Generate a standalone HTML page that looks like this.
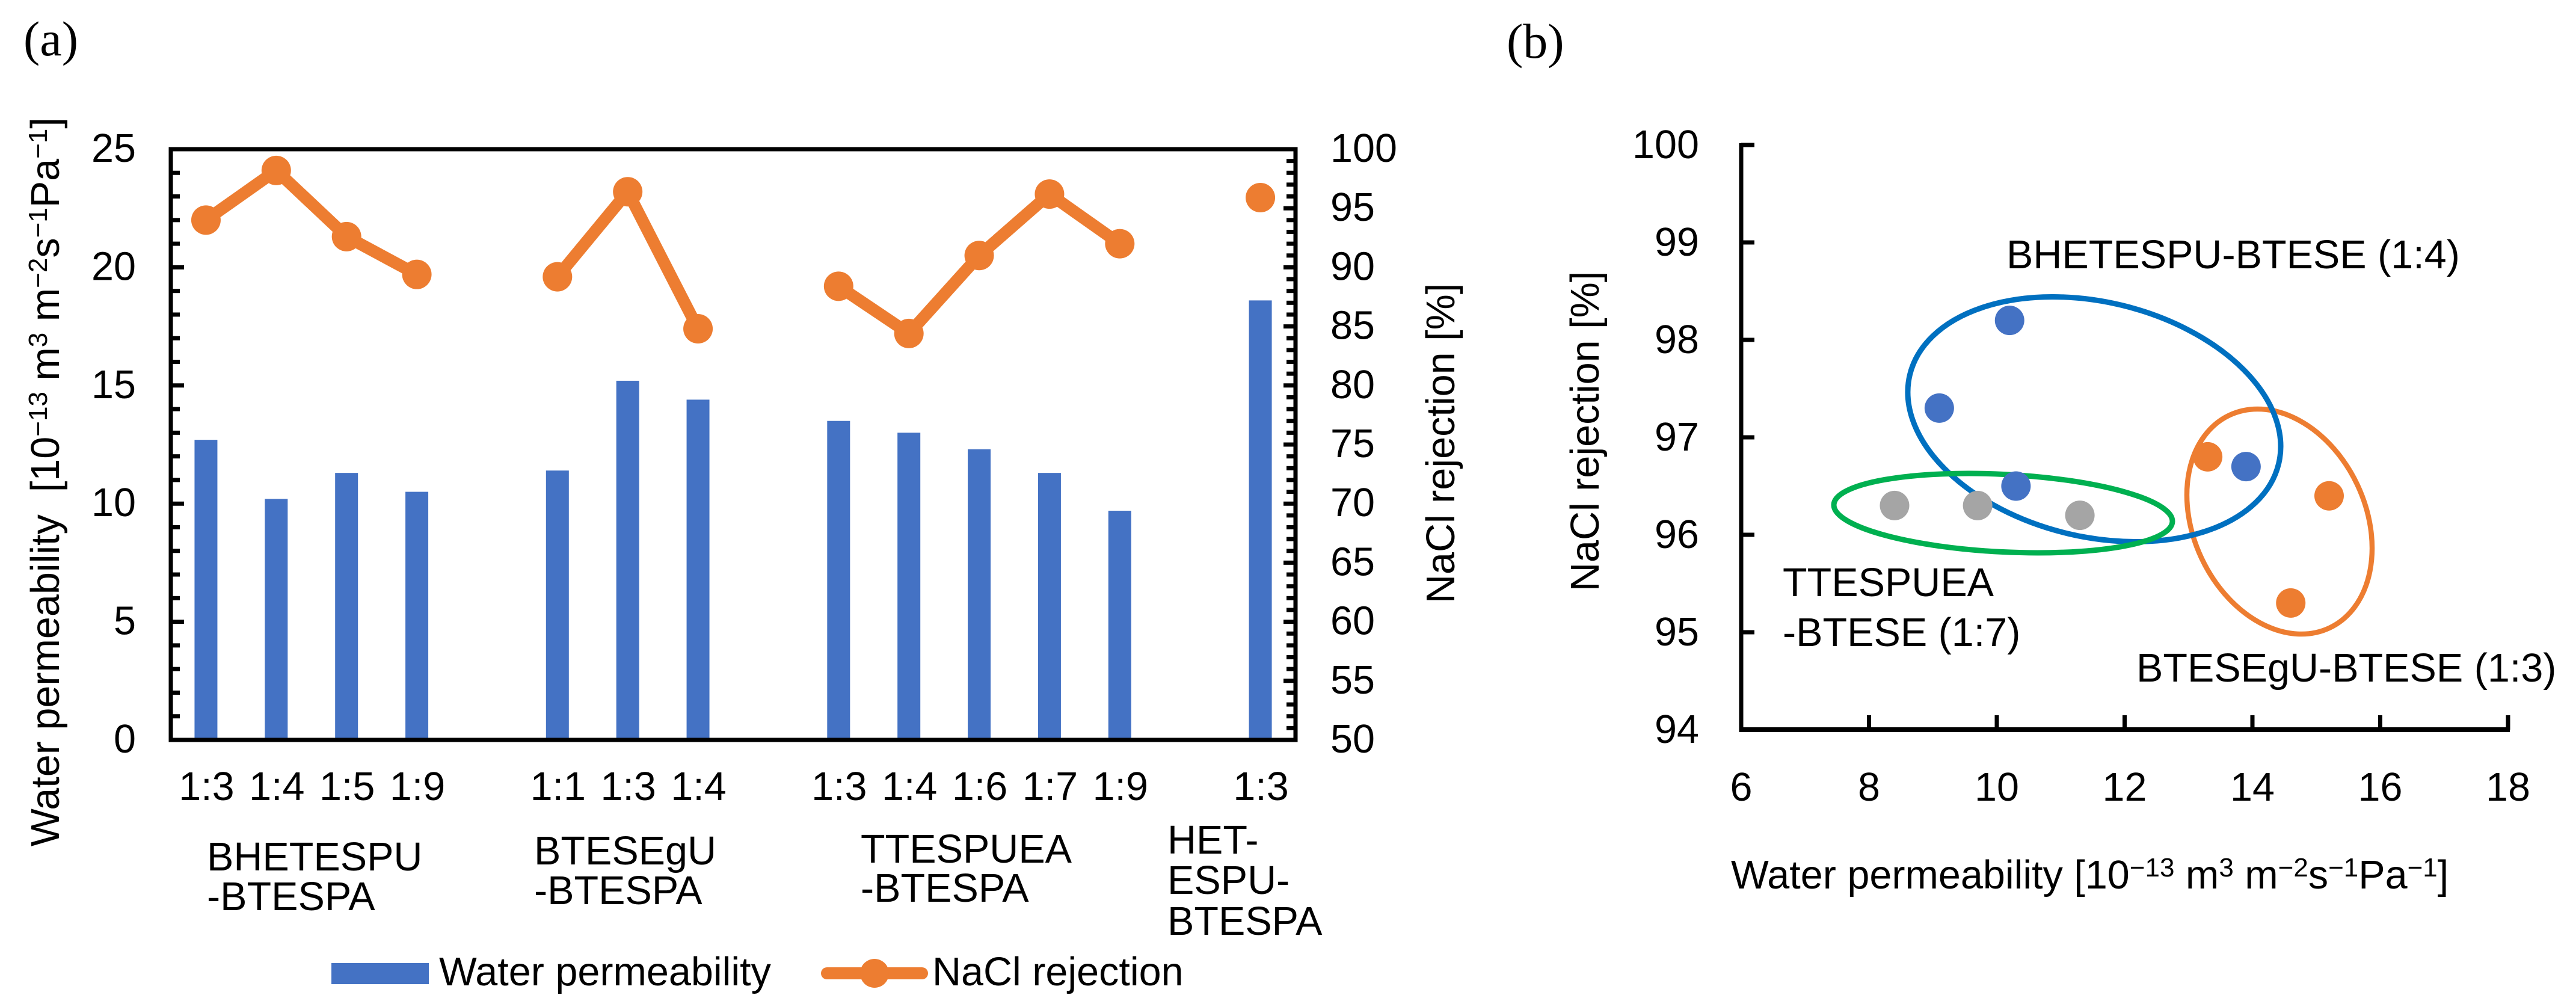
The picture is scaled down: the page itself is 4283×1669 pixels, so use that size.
<!DOCTYPE html>
<html lang="en">
<head>
<meta charset="utf-8">
<title>Water permeability and NaCl rejection</title>
<style>
html,body{margin:0;padding:0;background:#fff;width:4283px;height:1669px;overflow:hidden}
svg{display:block}
text{font-family:"Liberation Sans",Arial,sans-serif;font-size:66.5px;fill:#000}
.serif{font-family:"Liberation Serif","Times New Roman",serif;font-size:82px}
</style>
</head>
<body>
<svg id="fig" xmlns="http://www.w3.org/2000/svg" width="4283" height="1669" viewBox="0 0 4283 1669">
  <rect x="0" y="0" width="4283" height="1669" fill="#fff"/>
  <text class="serif" x="39" y="92">(a)</text>
  <text class="serif" x="2505" y="96">(b)</text>

  <g id="chartA"></g>
  <g id="chartB"></g>

  <text transform="translate(98,1407) rotate(-90)">Water permeability&#160; [10<tspan font-size="44" dy="-20">−13</tspan><tspan dy="20"> m</tspan><tspan font-size="44" dy="-20">3</tspan><tspan dy="20"> m</tspan><tspan font-size="44" dy="-20">−2</tspan><tspan dy="20">s</tspan><tspan font-size="44" dy="-20">−1</tspan><tspan dy="20">Pa</tspan><tspan font-size="44" dy="-20">−1</tspan><tspan dy="20">]</tspan></text>
  <text transform="translate(2418,1003) rotate(-90)">NaCl rejection [%]</text>

  <g>
    <text x="344" y="1447">BHETESPU</text>
    <text x="344" y="1513">-BTESPA</text>
    <text x="888" y="1437">BTESEgU</text>
    <text x="888" y="1503">-BTESPA</text>
    <text x="1431" y="1434">TTESPUEA</text>
    <text x="1431" y="1499">-BTESPA</text>
    <text x="1941" y="1419">HET-</text>
    <text x="1941" y="1486">ESPU-</text>
    <text x="1941" y="1554">BTESPA</text>
  </g>

  <g>
    <rect x="551" y="1601" width="162" height="35" fill="#4472C4"/>
    <text x="730" y="1638">Water permeability</text>
    <line x1="1375" y1="1618" x2="1533" y2="1618" stroke="#ED7D31" stroke-width="20" stroke-linecap="round"/>
    <circle cx="1454" cy="1618" r="24" fill="#ED7D31"/>
    <text x="1550" y="1638">NaCl rejection</text>
  </g>

  <text transform="translate(2658,983) rotate(-90)">NaCl rejection [%]</text>
  <text x="2878" y="1477">Water permeability [10<tspan font-size="44" dy="-20">−13</tspan><tspan dy="20"> m</tspan><tspan font-size="44" dy="-20">3</tspan><tspan dy="20"> m</tspan><tspan font-size="44" dy="-20">−2</tspan><tspan dy="20">s</tspan><tspan font-size="44" dy="-20">−1</tspan><tspan dy="20">Pa</tspan><tspan font-size="44" dy="-20">−1</tspan><tspan dy="20">]</tspan></text>

  <ellipse cx="3790" cy="867" rx="195.4" ry="143.2" transform="rotate(64.8 3790 867)" fill="none" stroke="#ED7D31" stroke-width="8.5"/>
  <ellipse cx="3482" cy="697" rx="315.4" ry="195" transform="rotate(13.56 3482 697)" fill="none" stroke="#0070C0" stroke-width="9"/>
  <ellipse cx="3330.5" cy="853" rx="281.8" ry="64.5" transform="rotate(2.9 3330.5 853)" fill="none" stroke="#00B050" stroke-width="9"/>

  <g id="chartBPoints"></g>

  <text x="3336" y="446">BHETESPU-BTESE (1:4)</text>
  <text x="2964" y="991">TTESPUEA</text>
  <text x="2964" y="1074">-BTESE (1:7)</text>
  <text x="3552" y="1133">BTESEgU-BTESE (1:3)</text>
</svg>

<script>
// ---- Panel (a) data ----
const ratioLabels = ["1:3","1:4","1:5","1:9","","1:1","1:3","1:4","","1:3","1:4","1:6","1:7","1:9","","1:3"];
const permeabilityValues = [12.7,10.2,11.3,10.5,null,11.4,15.2,14.4,null,13.5,13.0,12.3,11.3,9.7,null,18.6];
const rejectionValues = [94,98.2,92.6,89.4,null,89.2,96.4,84.8,null,88.4,84.4,91,96.2,92,null,95.9];
const leftTicks = [0,5,10,15,20,25];
const rightTicks = [50,55,60,65,70,75,80,85,90,95,100];

// ---- Panel (b) data ----
const blueX = [9.1,10.2,10.3,13.9];
const blueY = [97.3,98.2,96.5,96.7];
const orangeX = [13.3,15.2,14.6];
const orangeY = [96.8,96.4,95.3];
const grayX = [8.4,9.7,11.3];
const grayY = [96.3,96.3,96.2];
const bXTicks = [6,8,10,12,14,16,18];
const bYTicks = [94,95,96,97,98,99,100];

const NS = "http://www.w3.org/2000/svg";
function make(parent, tag, attrs, txt){
  const el = document.createElementNS(NS, tag);
  for (const k in attrs) el.setAttribute(k, attrs[k]);
  if (txt !== undefined) el.textContent = txt;
  parent.appendChild(el);
  return el;
}

// ---- Panel (a) axes ----
const aL = 284, aR = 2154, aT = 248, aB = 1230;
const xA = i => aL + (i + 0.5) * (aR - aL) / ratioLabels.length;
const yLeft = v => aB - v / 25 * (aB - aT);
const yRight = v => aB - (v - 50) / 50 * (aB - aT);
const gA = document.getElementById("chartA");

const barW = 38;
permeabilityValues.forEach((v, i) => {
  if (v === null) return;
  const bar = make(gA, "rect", {x: xA(i) - barW / 2, y: yLeft(v), width: barW, height: yLeft(0) - yLeft(v), fill: "#4472C4"});
  
  
});

// frame
[[aL, aT, aR, aT], [aL, aB, aR, aB], [aL, aT, aL, aB], [aR, aT, aR, aB]].forEach(c => {
  const side = make(gA, "line", {x1: c[0], y1: c[1], x2: c[2], y2: c[3], stroke: "#000", "stroke-width": 7, "stroke-linecap": "square"});
  
  
});

// left ticks
for (let v = 0; v <= 25; v++) {
  const major = leftTicks.includes(v);
  const t = make(gA, "line", {x1: aL, x2: aL + (major ? 22 : 15), y1: yLeft(v), y2: yLeft(v), stroke: "#000", "stroke-width": 7});
  
  
}
leftTicks.forEach(v => {
  const l = make(gA, "text", {x: 226, y: yLeft(v) + 21, "text-anchor": "end"}, String(v));
  
  
});

// right ticks
for (let v = 50; v <= 100; v++) {
  const major = rightTicks.includes(v);
  const t = make(gA, "line", {x1: aR, x2: aR - (major ? 20 : 15), y1: yRight(v), y2: yRight(v), stroke: "#000", "stroke-width": 7});
  
  
}
rightTicks.forEach(v => {
  const l = make(gA, "text", {x: 2212, y: yRight(v) + 21}, String(v));
  
  
});

// category labels
ratioLabels.forEach((s, i) => {
  if (!s) return;
  const l = make(gA, "text", {x: xA(i) + 1, y: 1330, "text-anchor": "middle"}, s);
  
  
});

// rejection line segments (broken at nulls)
rejectionValues.forEach((v, i) => {
  const n = rejectionValues[i + 1];
  if (v === null || n === null || n === undefined) return;
  const s = make(gA, "line", {x1: xA(i), y1: yRight(v), x2: xA(i + 1), y2: yRight(n), stroke: "#ED7D31", "stroke-width": 20, "stroke-linecap": "round"});
  
  
});
rejectionValues.forEach((v, i) => {
  if (v === null) return;
  const c = make(gA, "circle", {cx: xA(i), cy: yRight(v), r: 24.5, fill: "#ED7D31"});
  
  
});

// ---- Panel (b) axes ----
const bL = 2895, bR = 4170, bT = 241, bB = 1213;
const xB = v => bL + (v - 6) / 12 * (bR - bL);
const yB = v => bB - (v - 94) / 6 * (bB - bT);
const gB = document.getElementById("chartB");
const gP = document.getElementById("chartBPoints");

const bAxisY = make(gB, "line", {x1: bL, x2: bL, y1: bT - 3, y2: bB + 4, stroke: "#000", "stroke-width": 7});


const bAxisX = make(gB, "line", {x1: bL - 3, x2: bR + 3, y1: bB, y2: bB, stroke: "#000", "stroke-width": 8});



bYTicks.forEach(v => {
  if (v !== 94) {
    const t = make(gB, "line", {x1: bL, x2: bL + 22, y1: yB(v), y2: yB(v), stroke: "#000", "stroke-width": 7});
    
    
  }
  const l = make(gB, "text", {x: 2825, y: yB(v) + 22, "text-anchor": "end"}, String(v));
  
  
});
bXTicks.forEach(v => {
  if (v !== 6) {
    const t = make(gB, "line", {x1: xB(v), x2: xB(v), y1: bB - 24, y2: bB, stroke: "#000", "stroke-width": 7});
    
    
  }
  const l = make(gB, "text", {x: xB(v), y: 1331, "text-anchor": "middle"}, String(v));
  
  
});

function plotPoints(xs, ys, color, name){
  xs.forEach((x, i) => {
    const c = make(gP, "circle", {cx: xB(x), cy: yB(ys[i]), r: 24.5, fill: color});
    
    
  });
}
plotPoints(blueX, blueY, "#4472C4", "point-bhetespu");
plotPoints(orangeX, orangeY, "#ED7D31", "point-btesegu");
plotPoints(grayX, grayY, "#A5A5A5", "point-ttespuea");
</script>
</body>
</html>
